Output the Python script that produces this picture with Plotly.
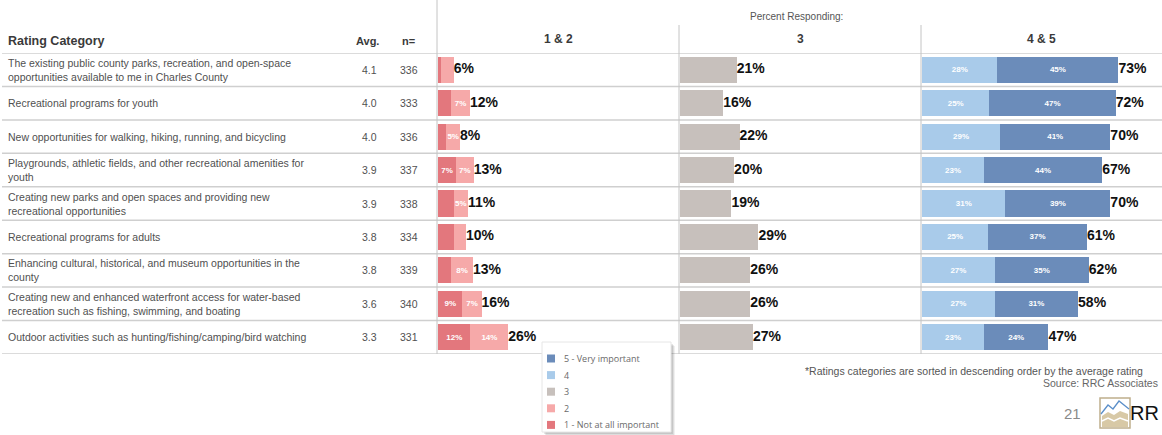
import plotly.graph_objects as go

# ---- data -------------------------------------------------------------
categories = [
    "The existing public county parks, recreation, and open-space<br>opportunities available to me in Charles County",
    "Recreational programs for youth",
    "New opportunities for walking, hiking, running, and bicycling",
    "Playgrounds, athletic fields, and other recreational amenities for<br>youth",
    "Creating new parks and open spaces and providing new<br>recreational opportunities",
    "Recreational programs for adults",
    "Enhancing cultural, historical, and museum opportunities in the<br>county",
    "Creating new and enhanced waterfront access for water-based<br>recreation such as fishing, swimming, and boating",
    "Outdoor activities such as hunting/fishing/camping/bird watching",
]
avg_rating = [4.1, 4.0, 4.0, 3.9, 3.9, 3.8, 3.8, 3.6, 3.3]
n_resp = [336, 333, 336, 337, 338, 334, 339, 340, 331]

# percent responding by rating (1 = not at all important ... 5 = very important)
pct_1 = [1.2, 4.8, 3.1, 6.6, 5.8, 5.9, 4.9, 9.0, 12.0]
pct_2 = [4.6, 7.0, 5.0, 6.6, 5.3, 4.4, 8.0, 7.1, 14.0]
pct_3 = [21, 16, 22, 20, 19, 29, 26, 26, 27]
pct_4 = [28, 25, 29, 23, 31, 24.6, 27, 27, 23]
pct_5 = [45, 47, 41, 44, 39, 36.7, 35, 31, 24]

# which low-end segments carry an inside label
label_1 = [False, False, False, True, False, False, False, True, True]
label_2 = [False, True, True, True, True, False, True, True, True]

panel_titles = ["1 & 2", "3", "4 & 5"]
legend_names = ["5 - Very important", "4", "3", "2", "1 - Not at all important"]
legend_colors = ["#6b8cba", "#a9cbea", "#c7c0bc", "#f6a9a9", "#e3777d"]
C5, C4, C3, C2, C1 = legend_colors

# ---- page geometry helpers (figure is 1162 x 435, no margins) ---------
W, H = 1162, 435


def px(x):
    return x / W


def py(y):
    return 1 - y / H


FONT = "Liberation Sans, Arial, sans-serif"
rows = list(range(len(categories)))

fig = go.Figure()


def seg_text(values, mask):
    return [f"{v:.0f}%" if m else "" for v, m in zip(values, mask)]


def add_segment(values, color, xa, text):
    fig.add_trace(go.Bar(
        x=values, y=rows, orientation="h", xaxis=xa, yaxis="y",
        marker=dict(color=color, line=dict(width=0)), width=0.78,
        text=text, textposition="inside", insidetextanchor="middle",
        textangle=0,
        textfont=dict(family=FONT, size=8, color="white", weight="bold"),
        showlegend=False, hoverinfo="skip",
    ))


def add_total(totals, xa):
    fig.add_trace(go.Scatter(
        x=totals, y=rows, xaxis=xa, yaxis="y", mode="text",
        text=[f"{t:.0f}%" for t in totals], textposition="middle right",
        textfont=dict(family=FONT, size=14, color="#111", weight="bold"),
        cliponaxis=False, showlegend=False, hoverinfo="skip",
    ))


# 1 & 2 panel
add_segment(pct_1, C1, "x", seg_text(pct_1, label_1))
add_segment(pct_2, C2, "x", seg_text(pct_2, label_2))
add_total([a + b for a, b in zip(pct_1, pct_2)], "x")

# 3 panel
add_segment(pct_3, C3, "x2", None)
add_total(pct_3, "x2")

# 4 & 5 panel
add_segment(pct_4, C4, "x3", [f"{v:.0f}%" for v in pct_4])
add_segment(pct_5, C5, "x3", [f"{v:.0f}%" for v in pct_5])
add_total([a + b for a, b in zip(pct_4, pct_5)], "x3")

# ---- axes -------------------------------------------------------------
panel_edges = [437, 679, 921, 1162]
xrange = [-0.4, 89.2]
hidden = dict(visible=False, showgrid=False, zeroline=False, fixedrange=True)
fig.update_layout(
    barmode="stack",
    uniformtext=dict(minsize=8, mode="show"),
    xaxis=dict(domain=[px(panel_edges[0]), px(panel_edges[1])], range=xrange, anchor="y", **hidden),
    xaxis2=dict(domain=[px(panel_edges[1]), px(panel_edges[2])], range=xrange, anchor="y", **hidden),
    xaxis3=dict(domain=[px(panel_edges[2]), px(panel_edges[3])], range=xrange, anchor="y", **hidden),
    yaxis=dict(domain=[py(354), py(53)], range=[len(rows) - 0.5, -0.5], **hidden),
)

shapes = []
annotations = []

# horizontal row rules
for k in range(len(rows) + 1):
    shapes.append(dict(type="line", xref="paper", yref="y", x0=px(2), x1=1,
                       y0=k - 0.5, y1=k - 0.5, line=dict(color="#cfcfcf", width=1.5)))

# vertical panel dividers
shapes.append(dict(type="line", xref="paper", yref="paper", x0=px(437), x1=px(437),
                   y0=py(0), y1=py(354), line=dict(color="#c4c4c4", width=1)))
for xe in panel_edges[1:3]:
    shapes.append(dict(type="line", xref="paper", yref="paper", x0=px(xe), x1=px(xe),
                       y0=py(25), y1=py(354), line=dict(color="#c4c4c4", width=1)))

# row labels, averages, counts
body = dict(family=FONT, size=10.5, color="#505050")
for i, (cat, a, n) in enumerate(zip(categories, avg_rating, n_resp)):
    annotations.append(dict(xref="paper", yref="y", x=px(6), y=i, text=cat,
                            xanchor="left", yanchor="middle", align="left", showarrow=False,
                            font=body))
    annotations.append(dict(xref="paper", yref="y", x=px(369), y=i, text=f"{a:.1f}",
                            xanchor="center", yanchor="middle", showarrow=False,
                            font=body))
    annotations.append(dict(xref="paper", yref="y", x=px(409), y=i, text=f"{n}",
                            xanchor="center", yanchor="middle", showarrow=False,
                            font=body))

# column headings
head = dict(family=FONT, size=12, color="#3a3a3a", weight="bold")
annotations += [
    dict(xref="paper", yref="paper", x=px(6), y=py(41), text="Rating Category",
         xanchor="left", yanchor="middle", showarrow=False,
         font=dict(family=FONT, size=12.5, color="#3a3a3a", weight="bold")),
    dict(xref="paper", yref="paper", x=px(367), y=py(41), text="Avg.",
         xanchor="center", yanchor="middle", showarrow=False,
         font=dict(family=FONT, size=11, color="#3a3a3a", weight="bold")),
    dict(xref="paper", yref="paper", x=px(409), y=py(41), text="n=",
         xanchor="center", yanchor="middle", showarrow=False,
         font=dict(family=FONT, size=11, color="#3a3a3a", weight="bold")),
    dict(xref="paper", yref="paper", x=px(797), y=py(16), text="Percent Responding:",
         xanchor="center", yanchor="middle", showarrow=False,
         font=dict(family=FONT, size=10, color="#555")),
]
for t, x0, x1 in zip(panel_titles, panel_edges[:-1], panel_edges[1:]):
    annotations.append(dict(xref="paper", yref="paper", x=px((x0 + x1) / 2), y=py(39),
                            text=t, xanchor="center", yanchor="middle", showarrow=False,
                            font=head))

# legend box with soft drop shadow
lx0, ly0, lx1, ly1 = 542, 342, 671, 432
for off, op in [(4, 0.06), (3, 0.08), (2, 0.10)]:
    shapes.append(dict(type="rect", xref="paper", yref="paper",
                       x0=px(lx0 + off), x1=px(lx1 + off), y0=py(ly0 + off), y1=py(ly1 + off),
                       fillcolor=f"rgba(0,0,0,{op})", line=dict(width=0)))
shapes.append(dict(type="rect", xref="paper", yref="paper",
                   x0=px(lx0), x1=px(lx1), y0=py(ly0), y1=py(ly1),
                   fillcolor="white", line=dict(color="#e6e6e6", width=1)))
for k, (name, col) in enumerate(zip(legend_names, legend_colors)):
    yc = 358.5 + 16.6 * k
    shapes.append(dict(type="rect", xref="paper", yref="paper",
                       x0=px(547), x1=px(555), y0=py(yc - 4), y1=py(yc + 4),
                       fillcolor=col, line=dict(width=0)))
    annotations.append(dict(xref="paper", yref="paper", x=px(562), y=py(yc), text=name,
                            xanchor="left", yanchor="middle", showarrow=False,
                            font=dict(family="Open Sans, sans-serif", size=9, color="#6a6a6a")))

# footnote and source
annotations += [
    dict(xref="paper", yref="paper", x=px(803), y=py(371),
         text="*Ratings categories are sorted in descending order by the average rating",
         xanchor="left", yanchor="middle", showarrow=False,
         font=dict(family=FONT, size=10.5, color="#555")),
    dict(xref="paper", yref="paper", x=px(1041), y=py(383), text="Source: RRC Associates",
         xanchor="left", yanchor="middle", showarrow=False,
         font=dict(family=FONT, size=10.5, color="#666")),
    dict(xref="paper", yref="paper", x=px(1072), y=py(413), text="21",
         xanchor="center", yanchor="middle", showarrow=False,
         font=dict(family=FONT, size=15, color="#8a8a8a")),
    dict(xref="paper", yref="paper", x=px(1161), y=py(413), text="RR",
         xanchor="right", yanchor="middle", showarrow=False,
         font=dict(family=FONT, size=20, color="#111")),
]


# small mountain logo
def path(points, close=False):
    s = "M " + " L ".join(f"{px(x):.5f},{py(y):.5f}" for x, y in points)
    return s + (" Z" if close else "")


shapes.append(dict(type="rect", xref="paper", yref="paper",
                   x0=px(1100), x1=px(1130), y0=py(398), y1=py(428),
                   fillcolor="white", line=dict(color="#bfae8c", width=1.5)))
shapes.append(dict(type="path", xref="paper", yref="paper",
                   path=path([(1102, 427), (1102, 416), (1108, 412), (1114, 415), (1120, 411),
                              (1128, 414), (1128, 427)], close=True),
                   fillcolor="#d8c9a6", line=dict(width=0)))
shapes.append(dict(type="path", xref="paper", yref="paper",
                   path=path([(1102, 421), (1108, 418), (1114, 421), (1120, 418), (1128, 421)]),
                   line=dict(color="white", width=1.5)))
shapes.append(dict(type="path", xref="paper", yref="paper",
                   path=path([(1101, 414), (1108, 405), (1113, 409), (1119, 401), (1129, 409)]),
                   line=dict(color="#5b8fc9", width=1.3)))

fig.update_layout(
    width=W, height=H,
    margin=dict(l=0, r=0, t=0, b=0),
    paper_bgcolor="white", plot_bgcolor="white",
    shapes=shapes, annotations=annotations,
    showlegend=False,
)

fig.write_html("out.html", config={"displayModeBar": False})
